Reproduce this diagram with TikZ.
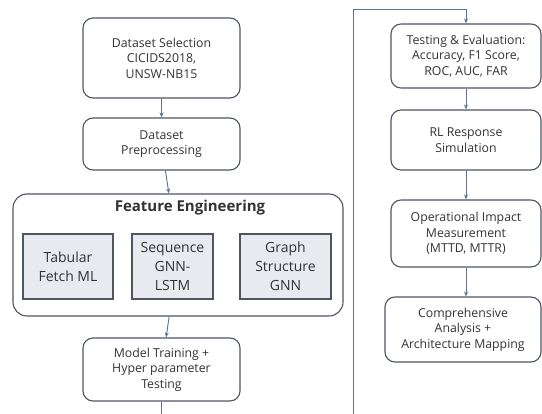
\documentclass[tikz,border=0pt]{standalone}
\usepackage{fontspec}
\setmainfont{Open Sans}
\usepackage{tikz}
\usetikzlibrary{arrows.meta,positioning,calc}
\definecolor{edge}{HTML}{4F5562}
\definecolor{txt}{HTML}{333333}
\definecolor{flow}{HTML}{5A7399}
\definecolor{inner}{HTML}{E9EAEF}

\begin{document}
\begin{tikzpicture}[x=1pt,y=-1pt,
    stage/.style={draw=edge, line width=1.1pt, rounded corners=10pt, align=center, text=txt,
        font=\fontsize{12.3}{15.5}\selectfont, inner sep=0pt},
    feat/.style={draw=edge, line width=1.1pt, fill=inner, align=center, text=txt,
        font=\fontsize{14}{19}\selectfont, inner sep=0pt, minimum height=65pt},
    flowarrow/.style={-{Stealth[length=5pt,width=4pt]}, draw=flow, line width=0.9pt}]
                \clip (0,0) rectangle (542,414);
                \fill[white] (0,0) rectangle (542,414);
                % left column
                \node[stage, minimum width=157pt, minimum height=80pt] (select) at (161.5,58) {Dataset Selection\\CICIDS2018,\\UNSW-NB15};
                \node[stage, minimum width=157pt, minimum height=52pt] (prep) at (161.5,144) {Dataset\\Preprocessing};
                \node[stage, rounded corners=14pt, minimum width=330pt, minimum height=122pt] (feature) at (178,255) {};
                \node[font=\fontsize{15}{18}\selectfont\bfseries, text=txt] (featitle) at (190,208) {Feature Engineering};
                \node[feat, minimum width=90pt] (tabular) at (68,266.5) {Tabular\\Fetch ML};
                \node[feat, minimum width=81pt] (sequence) at (172.5,266.5) {Sequence\\GNN-\\LSTM};
                \node[feat, minimum width=91pt] (graph) at (285.5,266.5) {Graph\\Structure\\GNN};
                \node[stage, minimum width=157pt, minimum height=63pt] (train) at (161.5,369.5) {Model Training +\\Hyper parameter\\Testing};
                % right column
                \node[stage, minimum width=150pt, minimum height=64pt] (test) at (466,56) {Testing \& Evaluation:\\Accuracy, F1 Score,\\ROC, AUC, FAR};
                \node[stage, minimum width=150pt, minimum height=60pt] (rl) at (466,140) {RL Response\\Simulation};
                \node[stage, minimum width=150pt, minimum height=67pt] (impact) at (466,233.5) {Operational Impact\\Measurement\\(MTTD, MTTR)};
                \node[stage, minimum width=156pt, minimum height=65pt] (analysis) at (463,329.5) {Comprehensive\\Analysis +\\Architecture Mapping};
                % connectors
                \draw[flowarrow] (select) -- (prep);
                \draw[flowarrow] (prep) -- (feature);
                \draw[flowarrow] (feature) -- (train);
                \coordinate (lowL) at (161.5,440);
                \coordinate (lowR) at (353,440);
                \coordinate (topL) at (353,9);
                \draw[flowarrow] (train.south) -- (lowL) -- (lowR) -- (topL) -| (test.north);
                \draw[flowarrow] (test) -- (rl);
                \draw[flowarrow] (rl) -- (impact);
                \draw[flowarrow] (impact) -- (analysis.north -| impact.south);
            \end{tikzpicture}
\end{document}
